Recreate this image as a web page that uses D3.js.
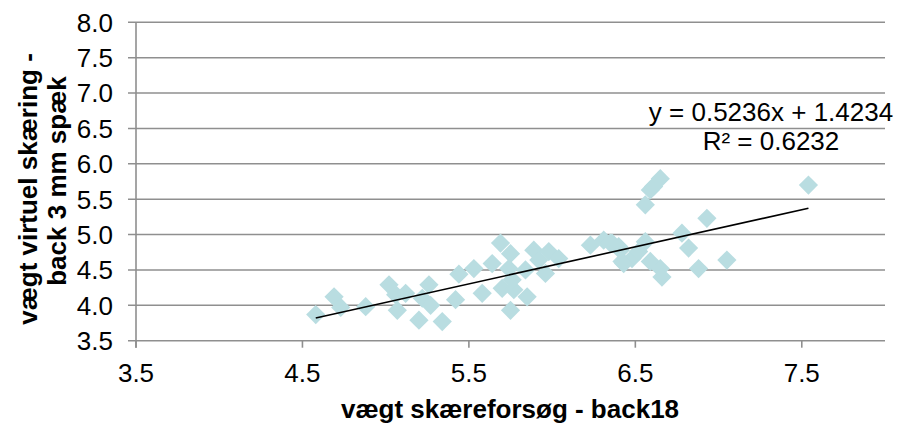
<!DOCTYPE html>
<html><head><meta charset="utf-8">
<script src="https://cdn.jsdelivr.net/npm/d3@7"></script>
<style>body{margin:0;background:#fff}svg{display:block}text{font-family:"Liberation Sans",Arial,sans-serif}</style>
</head><body><svg id="c" width="899" height="424"></svg>
<script>
const xVals = [4.58,4.69,4.73,4.88,5.02,5.06,5.07,5.12,5.20,5.26,5.22,5.27,5.34,5.42,5.44,5.53,5.58,5.64,5.69,5.75,5.70,5.74,5.77,5.76,5.75,5.85,5.84,5.89,5.92,5.96,5.98,6.04,6.23,6.31,6.36,6.42,6.41,6.48,6.35,6.40,6.43,6.52,6.56,6.56,6.59,6.65,6.61,6.59,6.65,6.66,6.78,6.82,6.88,6.93,7.05,7.54];
const yVals = [3.87,4.12,3.97,3.98,4.29,4.15,3.93,4.17,3.79,4.29,4.10,4.00,3.77,4.08,4.44,4.52,4.17,4.59,4.88,4.73,4.24,4.52,4.22,4.36,3.93,4.12,4.50,4.78,4.64,4.45,4.76,4.66,4.85,4.92,4.88,4.62,4.78,4.66,4.88,4.83,4.59,4.76,4.90,5.42,5.63,5.79,5.68,4.62,4.52,4.40,5.02,4.81,4.52,5.23,4.64,5.70];
const xTicks = [3.5,4.5,5.5,6.5,7.5];
const yTicks = [3.5,4.0,4.5,5.0,5.5,6.0,6.5,7.0,7.5,8.0];
const slope = 0.5236, intercept = 1.4234;
const eqLabel = "y = 0.5236x + 1.4234";
const r2Label = "R² = 0.6232";
const xTitle = "vægt skæreforsøg - back18";
const yTitle = ["vægt virtuel skæring -", "back 3 mm spæk"];

const svg = d3.select("#c");
const L = 136, R = 885, T = 22.3, B = 340.7;
const x = d3.scaleLinear().domain([3.5, 8.0]).range([L, R]);
const y = d3.scaleLinear().domain([3.5, 8.0]).range([B, T]);
const grid = "#8f8f8f";
const FS = 26;

// gridlines
svg.append("g").selectAll("line").data(yTicks).join("line")
  .attr("x1", L - 8).attr("x2", R).attr("y1", d => y(d)).attr("y2", d => y(d))
  .attr("stroke", grid).attr("stroke-width", 1.6);
// y axis line
svg.append("line").attr("x1", L).attr("x2", L).attr("y1", T).attr("y2", B + 7)
  .attr("stroke", grid).attr("stroke-width", 1.6);
// x tick marks
svg.append("g").selectAll("line").data(xTicks).join("line")
  .attr("x1", d => x(d)).attr("x2", d => x(d)).attr("y1", B).attr("y2", B + 7)
  .attr("stroke", grid).attr("stroke-width", 1.6);

// y tick labels
svg.append("g").selectAll("text").data(yTicks).join("text")
  .attr("x", L - 23).attr("y", d => y(d)).attr("dy", "0.36em")
  .attr("text-anchor", "end").attr("font-size", FS).attr("fill", "#000")
  .text(d => d.toFixed(1));
// x tick labels
svg.append("g").selectAll("text").data(xTicks).join("text")
  .attr("x", d => x(d)).attr("y", 382)
  .attr("text-anchor", "middle").attr("font-size", FS).attr("fill", "#000")
  .text(d => d.toFixed(1));

// points
const pts = xVals.map((v, i) => [v, yVals[i]]);
const sq = d3.symbol().type(d3.symbolSquare).size(185);
svg.append("g").selectAll("path").data(pts).join("path")
  .attr("d", sq)
  .attr("transform", d => `translate(${x(d[0])},${y(d[1])}) rotate(45)`)
  .attr("fill", "#b9dde1");

// trendline
const xMin = d3.min(xVals), xMax = d3.max(xVals);
svg.append("line")
  .attr("x1", x(xMin)).attr("y1", y(slope * xMin + intercept))
  .attr("x2", x(xMax)).attr("y2", y(slope * xMax + intercept))
  .attr("stroke", "#000").attr("stroke-width", 1.6);

// equation
svg.append("text").attr("x", 771).attr("y", 121).attr("text-anchor", "middle")
  .attr("font-size", FS).text(eqLabel);
svg.append("text").attr("x", 771).attr("y", 150).attr("text-anchor", "middle")
  .attr("font-size", FS).text(r2Label);

// axis titles
svg.append("text").attr("x", 510).attr("y", 418).attr("text-anchor", "middle")
  .attr("font-size", FS).attr("font-weight", "bold").text(xTitle);
const yt = svg.append("g");
yt.append("text").attr("transform", "translate(37,189) rotate(-90)")
  .attr("text-anchor", "middle").attr("font-size", FS).attr("font-weight", "bold").text(yTitle[0]);
yt.append("text").attr("transform", "translate(66,181) rotate(-90)")
  .attr("text-anchor", "middle").attr("font-size", FS).attr("font-weight", "bold").text(yTitle[1]);
</script></body></html>
